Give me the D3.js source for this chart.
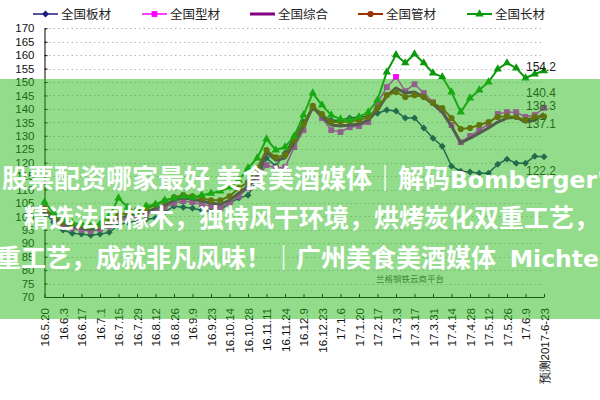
<!DOCTYPE html>
<html>
<head>
<meta charset="utf-8">
<script src="https://cdn.jsdelivr.net/npm/d3@7"></script>
<style>
  html, body { margin: 0; padding: 0; background: #fff; }
  svg { display: block; }
</style>
</head>
<body>
<svg id="chart" width="600" height="400"></svg>
<script>
// Weekly steel price index, by product group
const dates = ["16.5.20","16.5.27","16.6.3","16.6.10","16.6.17","16.6.24","16.7.1","16.7.8","16.7.15","16.7.22",
  "16.7.29","16.8.5","16.8.12","16.8.19","16.8.26","16.9.2","16.9.9","16.9.14","16.9.23","16.9.30",
  "16.10.14","16.10.21","16.10.28","16.11.4","16.11.11","16.11.18","16.11.24","16.12.2","16.12.9","16.12.16",
  "16.12.23","16.12.30","17.1.6","17.1.13","17.1.20","17.2.10","17.2.17","17.2.24","17.3.3","17.3.10",
  "17.3.17","17.3.24","17.3.31","17.4.7","17.4.14","17.4.21","17.4.28","17.5.5","17.5.12","17.5.19",
  "17.5.26","17.6.2","17.6.9","17.6.16","预测2017-6-23"];

const tickLabels = ["16.5.20","16.6.3","16.6.17","16.7.1","16.7.15","16.7.29","16.8.12","16.8.26","16.9.9","16.9.23",
  "16.10.14","16.10.28","16.11.11","16.11.24","16.12.9","16.12.23","17.1.6","17.1.20","17.2.17","17.3.3",
  "17.3.17","17.3.31","17.4.14","17.4.28","17.5.12","17.5.26","17.6.9","预测2017-6-23"];

const yTicks = [70,75,80,85,90,95,100,105,110,115,120,125,130,135,140,145,150,155,160,165,170];

const seriesNames = ["全国板材","全国型材","全国综合","全国管材","全国长材"];

const banCai = [101.6,97.8,94.9,93.7,93.4,93.0,93.4,94.1,96.7,97.8,
  98.2,98.9,99.3,101.6,103.8,103.4,103.0,102.3,101.9,102.3,
  104.9,106.8,107.9,113.5,121.7,118.7,123.5,129.5,135.1,140.3,
  137.7,135.8,135.8,136.6,137.0,137.3,138.4,139.6,139.2,136.6,
  136.6,132.9,129.1,126.1,118.7,116.8,116.5,116.1,116.1,119.4,
  121.3,119.8,119.8,122.4,122.2];

const xingCai = [103.4,99.7,96.7,95.6,94.9,94.5,95.2,96.3,98.6,98.9,
  100.1,100.8,101.9,103.4,104.9,105.7,105.3,104.5,103.8,103.4,
  104.9,107.5,110.5,114.2,119.1,118.0,118.3,125.8,132.1,140.7,
  136.6,132.1,131.4,133.2,133.6,135.1,142.2,148.1,151.9,146.6,
  149.2,145.9,142.5,139.6,134.0,127.6,129.9,132.1,134.3,138.1,
  138.8,138.8,137.0,137.7,140.4];

const zongHe = [102.3,99.3,97.1,96.3,95.6,95.2,95.6,97.1,99.3,100.1,
  100.8,101.6,103.0,104.2,106.0,106.8,106.4,105.7,104.9,104.5,
  106.0,108.6,111.2,115.3,123.9,120.9,121.7,127.3,133.6,140.7,
  137.0,134.0,133.6,134.0,134.3,135.8,139.6,144.8,147.8,145.9,
  146.3,144.4,141.8,138.8,133.6,127.3,129.1,131.0,132.9,135.1,
  136.6,137.0,135.1,135.8,138.3];

const guanCai = [103.0,100.1,97.8,97.1,96.7,96.3,96.7,98.2,100.8,101.2,
  102.3,103.0,104.2,105.7,107.1,107.9,107.5,106.8,106.0,106.0,
  107.5,110.5,112.7,118.0,124.7,122.0,122.8,128.4,134.3,141.1,
  138.1,135.1,135.1,135.5,135.8,137.0,140.3,145.1,146.3,144.4,
  145.1,144.4,142.2,140.3,136.6,132.5,132.9,134.0,135.1,137.0,
  137.3,137.0,135.8,137.0,137.1];

const changCai = [105.3,101.2,98.6,97.5,97.1,96.3,97.1,100.1,106.8,103.4,
  101.2,103.8,104.5,106.0,106.8,107.5,107.1,107.9,108.6,109.4,
  110.9,113.5,118.0,121.7,128.8,124.7,125.8,129.9,137.7,145.9,
  141.4,137.7,136.2,135.8,137.0,138.8,143.3,153.7,160.1,157.1,
  160.4,157.1,153.3,151.9,146.3,138.8,144.0,147.0,150.0,154.8,
  157.1,155.2,151.5,153.0,154.2];

// Drawing styles per series
const styles = [
  { color: "#1c1c80", width: 1.5, marker: "diamond",  labelDy: 14,  legendX: 33 },
  { color: "#ff00ff", width: 1.5, marker: "square",   labelDy: -15, legendX: 142 },
  { color: "#800080", width: 3,   marker: null,       labelDy: -8,  legendX: 250 },
  { color: "#993300", width: 2,   marker: "circle",   labelDy: 7,   legendX: 358 },
  { color: "#0a990a", width: 2,   marker: "triangle", labelDy: -4,  legendX: 467 }
];
const seriesValues = [banCai, xingCai, zongHe, guanCai, changCai];

const svg = d3.select("#chart");
const plotLeft = 44.5, plotRight = 544, plotTop = 28.3, plotBottom = 297;

const x = d3.scalePoint().domain(dates).range([plotLeft, plotRight]);
const y = d3.scaleLinear().domain([70, 170]).range([plotBottom, plotTop]);

const latinFont = "'Liberation Sans', Arial, sans-serif";
const cjkFont = "'Noto Sans CJK SC', 'Noto Sans', sans-serif";
const wideFont = "'DejaVu Sans', sans-serif";

// dotted horizontal gridlines
svg.append("g").selectAll("line")
  .data(yTicks.filter(v => v > 70))
  .join("line")
  .attr("x1", plotLeft).attr("x2", plotRight)
  .attr("y1", d => Math.round(y(d)) + 0.5).attr("y2", d => Math.round(y(d)) + 0.5)
  .attr("stroke", "#b8b8b8").attr("stroke-width", 1)
  .attr("stroke-dasharray", "1.5,3");

// y axis
const yAxis = svg.append("g").attr("transform", `translate(${plotLeft},0)`)
  .call(d3.axisLeft(y).tickValues(yTicks).tickSize(-3).tickSizeOuter(0).tickPadding(10));
yAxis.select(".domain").attr("stroke", "#000");
yAxis.selectAll(".tick line").attr("stroke", "#000");
yAxis.selectAll("text").attr("font-family", latinFont).attr("font-size", 11.5).attr("fill", "#111");

// x axis with vertical labels
const xAxis = svg.append("g").attr("transform", `translate(0,${plotBottom})`)
  .call(d3.axisBottom(x).tickValues(tickLabels).tickSize(-3).tickSizeOuter(0));
xAxis.select(".domain").attr("stroke", "#000");
xAxis.selectAll(".tick line").attr("stroke", "#000");
xAxis.selectAll("text")
  .attr("font-family", latinFont).attr("font-size", 11.5).attr("fill", "#111")
  .attr("transform", "rotate(-90)")
  .attr("x", -11).attr("y", 0).attr("dy", "0.35em")
  .style("text-anchor", "end");

// marker shapes
function markerPath(type) {
  if (type === "diamond") return d3.symbol().type(d3.symbolSquare).size(24)();
  if (type === "square") return d3.symbol().type(d3.symbolSquare).size(34)();
  if (type === "circle") return d3.symbol().type(d3.symbolCircle).size(30)();
  if (type === "triangle") return d3.symbol().type(d3.symbolTriangle).size(30)();
  return null;
}

const line = d3.line().x((d, i) => x(dates[i])).y(d => y(d));

seriesValues.forEach((vals, k) => {
  const st = styles[k];
  const g = svg.append("g");
  g.append("path").datum(vals)
    .attr("d", line)
    .attr("fill", "none")
    .attr("stroke", st.color)
    .attr("stroke-width", st.width)
    .attr("stroke-linejoin", "round");
  if (st.marker) {
    g.selectAll("path.m").data(vals).join("path")
      .attr("class", "m")
      .attr("d", markerPath(st.marker))
      .attr("transform", (d, i) => `translate(${x(dates[i])},${y(d)})` + (st.marker === "diamond" ? " rotate(45)" : ""))
      .attr("fill", st.color);
  }
  // value label at the last point
  const lastI = vals.length - 1;
  svg.append("text")
    .attr("x", x(dates[lastI]) - 3)
    .attr("y", y(vals[lastI]) + st.labelDy)
    .attr("dy", "0.35em")
    .attr("text-anchor", "middle")
    .attr("font-family", latinFont).attr("font-size", 12)
    .attr("fill", "#1a1a1a")
    .text(vals[lastI].toFixed(1));
});

// legend
const legend = svg.append("g");
seriesNames.forEach((name, k) => {
  const st = styles[k];
  const lx = st.legendX, ly = 14;
  legend.append("line")
    .attr("x1", lx).attr("x2", lx + 25).attr("y1", ly).attr("y2", ly)
    .attr("stroke", st.color).attr("stroke-width", st.width);
  if (st.marker) {
    legend.append("path")
      .attr("d", markerPath(st.marker))
      .attr("transform", `translate(${lx + 12.5},${ly})` + (st.marker === "diamond" ? " rotate(45)" : ""))
      .attr("fill", st.color);
  }
  legend.append("text")
    .attr("x", lx + 28).attr("y", ly).attr("dy", "0.36em")
    .attr("font-family", cjkFont).attr("font-size", 12.5).attr("fill", "#222")
    .text(name);
});

// platform watermark
svg.append("text")
  .attr("x", 376).attr("y", 282)
  .attr("font-family", cjkFont).attr("font-size", 8.5)
  .attr("fill", "#555")
  .text("兰格钢铁云商平台");

// translucent green band across the middle
svg.append("rect")
  .attr("x", 0).attr("y", 79).attr("width", 600).attr("height", 240)
  .attr("fill", "rgb(40,185,25)").attr("fill-opacity", 0.5);

// white banner text, running past the right edge; Latin words use a wider face
const banner = [
  { x: 2, y: 188, parts: [["股票配资哪家最好 美食美酒媒体｜解码", cjkFont, 26, 0], ["Bomberger's", wideFont, 23.5, 0]] },
  { x: 24, y: 227, parts: [["精选法国橡木，独特风干环境，烘烤炭化双重工艺，", cjkFont, 25, 0]] },
  { x: -4, y: 267, parts: [["重工艺，成就非凡风味！｜广州美食美酒媒体 ", cjkFont, 25, 0], ["Michter's", wideFont, 23.5, 8]] }
];
const bannerText = svg.append("g").selectAll("text").data(banner).join("text")
  .attr("x", d => d.x).attr("y", d => d.y)
  .attr("font-weight", 700)
  .attr("fill", "#fff")
  .style("white-space", "pre");
bannerText.selectAll("tspan").data(d => d.parts).join("tspan")
  .attr("font-family", p => p[1])
  .attr("font-size", p => p[2])
  .attr("dx", p => p[3])
  .text(p => p[0]);
</script>
</body>
</html>
